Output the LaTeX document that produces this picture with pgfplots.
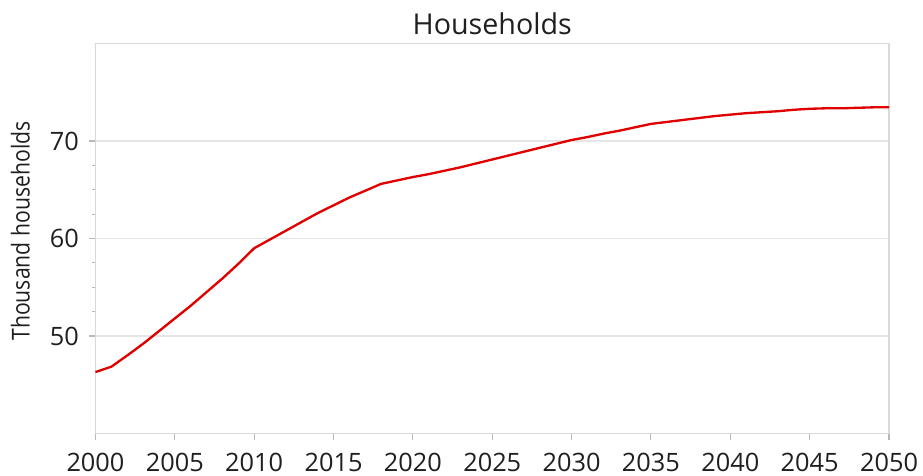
\documentclass[border=0pt]{standalone}
\usepackage{pgfplots}
\pgfplotsset{compat=1.18}
\usepackage{fontspec}
\setmainfont{Open Sans}
\definecolor{linered}{HTML}{E00000}
\definecolor{axgray}{HTML}{D9D9D9}
\definecolor{gridgray}{HTML}{E6E6E6}
\begin{document}
\begin{tikzpicture}[x=1pt,y=1pt]
\begin{axis}[
  scale only axis,
  width=595.1pt, height=292.5pt,
  xmin=2000, xmax=2050, ymin=40, ymax=80,
  xtick={2000,2005,...,2050},
  ytick={50,60,70},
  minor y tick num=3,
  x tick label style={/pgf/number format/1000 sep={}, yshift=-6pt},
  y tick label style={xshift=-4pt},
  /pgf/number format/assume math mode=true,
  tick label style={font=\fontsize{19}{22}\selectfont, text=black!88},
  axis line style={axgray, line width=1pt},
  every tick/.style={axgray!85!black, line width=0.8pt},
  tick align=outside,
  major tick length=5pt,
  minor tick length=2.5pt,
  xtick pos=bottom, ytick pos=left,
  ymajorgrids, major grid style={gridgray, line width=0.8pt},
  title={Households},
  title style={font=\fontsize{21.5}{24}\selectfont, text=black!88, yshift=-3pt},
  ylabel={\scalebox{0.86}[1]{Thousand households}},
  ylabel style={font=\fontsize{18.5}{22}\selectfont, text=black!88, at={(ticklabel cs:0.519)}, yshift=8pt},
  clip=false,
]
\addplot[linered, line width=1.75pt, line join=round] coordinates {
(2000,46.3) (2001,46.85) (2002,48.0) (2003,49.2) (2004,50.5) (2005,51.8)
(2006,53.1) (2007,54.5) (2008,55.9) (2009,57.4) (2010,59.0)
(2011,59.9) (2012,60.8) (2013,61.7) (2014,62.6) (2015,63.4)
(2016,64.2) (2017,64.9) (2018,65.6) (2019,65.95) (2020,66.3)
(2021,66.6) (2022,66.95) (2023,67.3) (2024,67.7) (2025,68.1)
(2026,68.5) (2027,68.9) (2028,69.3) (2029,69.7) (2030,70.1)
(2031,70.4) (2032,70.75) (2033,71.05) (2034,71.4) (2035,71.75)
(2036,71.95) (2037,72.15) (2038,72.35) (2039,72.55) (2040,72.7)
(2041,72.85) (2042,72.95) (2043,73.05) (2044,73.2) (2045,73.3)
(2046,73.35) (2047,73.35) (2048,73.4) (2049,73.45) (2050,73.45)
};
\end{axis}
\path[use as bounding box] ([shift={(-71.6pt,-31.1pt)}]current axis.south west) rectangle ([shift={(25.5pt,32.6pt)}]current axis.north east);
\end{tikzpicture}
\end{document}
